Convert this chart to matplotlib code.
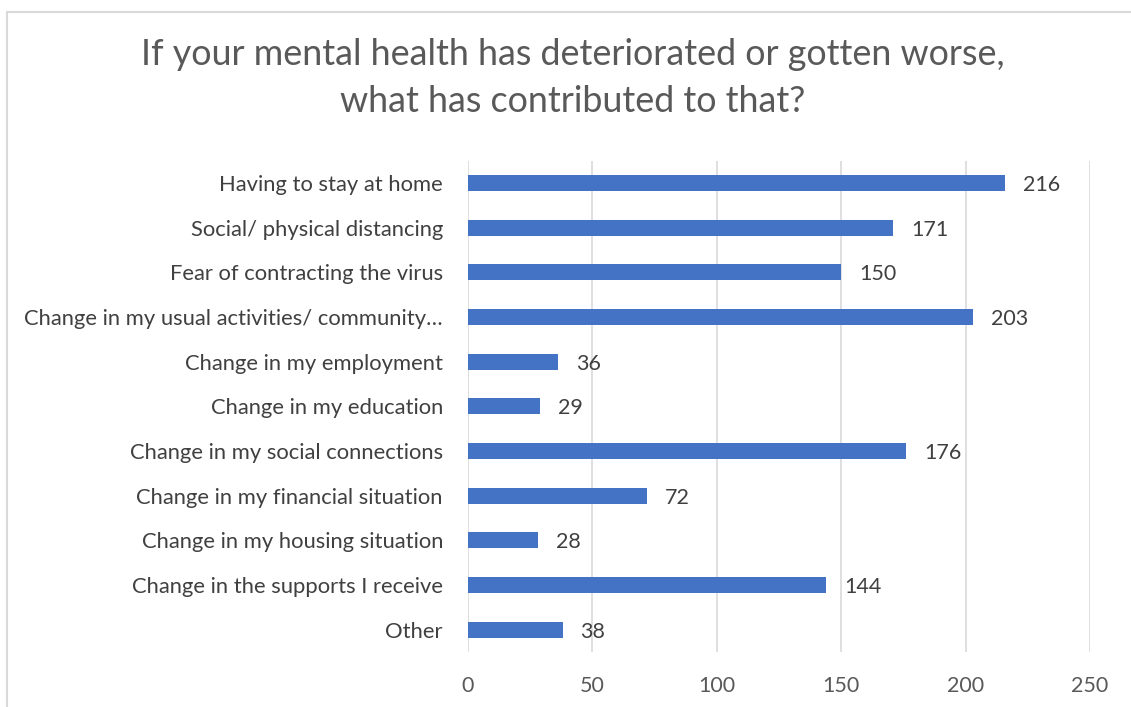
import matplotlib
matplotlib.use("Agg")
import matplotlib.pyplot as plt
from matplotlib.patches import Rectangle

plt.rcParams['font.family'] = ['Lato', 'DejaVu Sans']

categories = [
    "Having to stay at home",
    "Social/ physical distancing",
    "Fear of contracting the virus",
    "Change in my usual activities/ community\u2026",
    "Change in my employment",
    "Change in my education",
    "Change in my social connections",
    "Change in my financial situation",
    "Change in my housing situation",
    "Change in the supports I receive",
    "Other",
]
counts = [216, 171, 150, 203, 36, 29, 176, 72, 28, 144, 38]
x_ticks = [0, 50, 100, 150, 200, 250]

W, H = 1131, 707
fig = plt.figure(figsize=(W / 100, H / 100), dpi=100)
fig.patch.set_facecolor("white")

# chart frame (top and left edges visible)
fig.patches.append(Rectangle((7 / W, -0.1), 1.2, 1 - 12 / H + 0.1,
                             transform=fig.transFigure, fill=False,
                             edgecolor="#D9D9D9", linewidth=1.5))

ax = fig.add_axes([468 / W, 1 - 652 / H, (1090 - 468) / W, (652 - 160.6) / H])
y = list(range(len(categories)))
ax.barh(y, counts, height=0.36, color="#4472C4", zorder=3)
ax.set_ylim(len(categories) - 0.5, -0.5)
ax.set_xlim(0, 250)
ax.set_xticks(x_ticks)
ax.set_xticklabels([str(t) for t in x_ticks])
ax.set_yticks(y)
ax.set_yticklabels(categories)
ax.tick_params(axis="y", length=0, pad=18, labelsize=15.8, labelcolor="#404040")
ax.tick_params(axis="x", length=0, pad=17, labelsize=15.5, labelcolor="#595959")
ax.grid(axis="x", color="#D9D9D9", linewidth=1.2, zorder=0)
for s in ax.spines.values():
    s.set_visible(False)

for yi, v in zip(y, counts):
    ax.annotate(str(v), (v, yi), xytext=(13, -1.5), textcoords="offset points",
                va="center", ha="left", fontsize=15.5, color="#404040")

fig.text(573 / W, 1 - 78 / H,
         "If your mental health has deteriorated or gotten worse,\nwhat has contributed to that?",
         ha="center", va="center", fontsize=25.8, color="#595959", linespacing=1.55)

fig.savefig("out.png", dpi=100)
